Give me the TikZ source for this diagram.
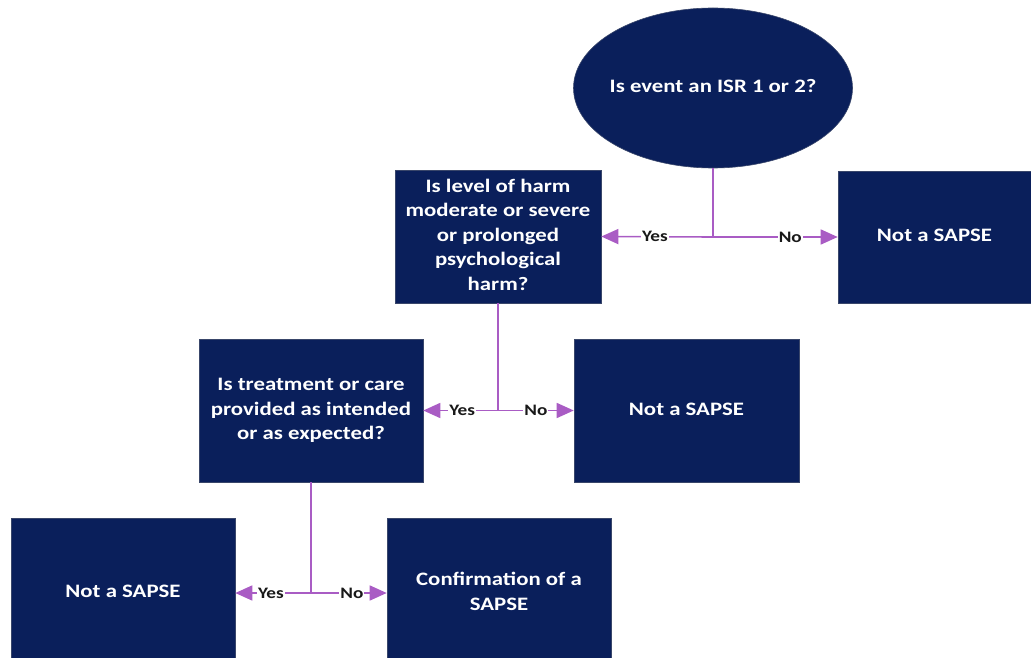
\documentclass[tikz,border=0pt]{standalone}
\usepackage{fontspec}
\usepackage{graphicx}
\setmainfont{Carlito}
\usetikzlibrary{shapes.geometric,arrows.meta}
\definecolor{navy}{HTML}{0A1F5B}
\definecolor{conn}{HTML}{A95CC4}
\newcommand\wtxt[1]{\scalebox{1.2}[1]{\begin{tabular}{@{}c@{}}#1\end{tabular}}}
\begin{document}
\begin{tikzpicture}[x=1pt,y=-1pt,
  box/.style={fill=navy,draw=navy!60!gray,line width=0.6pt,text=white,font=\bfseries\fontsize{19}{24.5}\selectfont,align=center,inner sep=0pt},
  conn/.style={draw=conn,line width=1.6pt},
  arr/.style={conn,-{Triangle[length=17pt,width=15pt]}},
  lbl/.style={fill=white,inner sep=1pt,font=\bfseries\fontsize{16}{18}\selectfont,text=black!90}]
\useasboundingbox (0,0) rectangle (1031,658);
\node[box,ellipse,inner xsep=-8pt,minimum width=279pt,minimum height=160pt] (q0) at (713,88) {\wtxt{Is event an ISR 1 or 2?}};
\node[box,minimum width=206pt,minimum height=133pt] (q1) at (498,236.5) {\wtxt{Is level of harm\\moderate or severe\\or prolonged\\psychological\\harm?}};
\node[box,minimum width=193pt,minimum height=132pt] (n1) at (934.5,237) {\wtxt{Not a SAPSE}};
\node[box,minimum width=224pt,minimum height=143pt] (q2) at (311,410.5) {\wtxt{Is treatment or care\\provided as intended\\or as expected?}};
\node[box,minimum width=225pt,minimum height=143pt] (n2) at (686.5,410.5) {\wtxt{Not a SAPSE}};
\node[box,minimum width=224pt,minimum height=150pt] (n3) at (123,593) {\wtxt{Not a SAPSE}};
\node[box,minimum width=224pt,minimum height=150pt] (c) at (499,593) {\wtxt{Confirmation of a\\SAPSE}};
\coordinate (j1) at (q0.south |- n1.west);
\coordinate (j2) at (q1.south |- q2.east);
\coordinate (j3) at (q2.south |- c.west);
\draw[conn] (q0.south) -- (j1);
\draw[arr] (j1) -- node[lbl,pos=0.52] {\scalebox{1.2}[1]{Yes}} (q1.east);
\draw[arr] (j1) -- node[lbl,pos=0.62] {\scalebox{1.2}[1]{No}} (n1.west);
\draw[conn] (q1.south) -- (j2);
\draw[arr] (j2) -- node[lbl,pos=0.48] {\scalebox{1.2}[1]{Yes}} (q2.east);
\draw[arr] (j2) -- node[lbl,pos=0.5] {\scalebox{1.2}[1]{No}} (n2.west);
\draw[conn] (q2.south) -- (j3);
\draw[arr] (j3) -- node[lbl,pos=0.53] {\scalebox{1.2}[1]{Yes}} (n3.east);
\draw[arr] (j3) -- node[lbl,pos=0.54] {\scalebox{1.2}[1]{No}} (c.west);
\end{tikzpicture}
\end{document}
